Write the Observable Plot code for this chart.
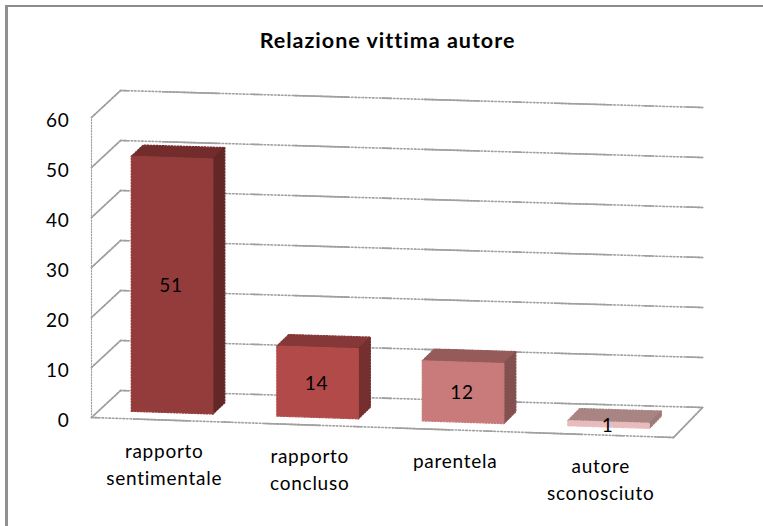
<!DOCTYPE html>
<html><head><meta charset="utf-8">
<script src="https://cdn.jsdelivr.net/npm/d3@7"></script>
<script src="https://cdn.jsdelivr.net/npm/@observablehq/plot@0.6"></script>
<style>
html,body{margin:0;padding:0;background:#fff}
#chart{position:relative;width:763px;height:526px;overflow:hidden}
#chart svg{display:block}
#chart svg text{letter-spacing:.75px}
#chart svg .ttl text{letter-spacing:1px}
#edge{position:absolute;left:5px;top:5px;right:-5px;bottom:-5px;border-left:3px solid #909090;border-top:2px solid #8c8c8c;pointer-events:none}
</style></head><body>
<div id="chart"><div id="edge"></div></div>
<script>
const categories = ["rapporto\nsentimentale", "rapporto\nconcluso", "parentela", "autore\nsconosciuto"];
const values = [51, 14, 12, 1];
const tickValues = [0, 10, 20, 30, 40, 50, 60];
const frontColors = ["#943c3c", "#b24a4a", "#c97a7a", "#e8bcbc"];
const topColors = ["#722c2c", "#863737", "#955a5a", "#a88583"];
const sideColors = ["#632726", "#742f2e", "#835050", "#9c7b78"];
const chartTitle = "Relazione vittima autore";

// oblique 3D projection expressed in chart units (category, value, depth)
const P = (u, v, d) => ({x: u + d * 0.2, y: v + 5.4 * d - u * (1 - 0.15 * d)});
const barFrom = 0.22, barTo = 0.78, depthFront = 0.27, depthBack = 0.68;

const gridMarks = [];
const solidGray = {x: "x", y: "y", stroke: "#a0a0a0", strokeWidth: 1.6, curve: "linear"};
function wire(pts, dash) {
  gridMarks.push(Plot.line(pts, {...solidGray, strokeDasharray: "1.5,2"}));
  gridMarks.push(Plot.line(pts, {...solidGray, strokeDasharray: dash}));
}
for (const t of tickValues) {
  wire([P(0, t, 0), P(0, t, 1)], "400");
  wire([P(0, t, 1), P(4, t, 1)], "8,34,55,34");
}
wire([P(0, 0, 0), P(4, 0, 0)], "8,34,55,34");
wire([P(4, 0, 0), P(4, 0, 1)], "400");
gridMarks.push(Plot.line([P(0, 0, 0), P(0, 60, 0)], {x: "x", y: "y", stroke: "#a0a0a0", strokeWidth: 1.2, strokeDasharray: "1.2,1.6"}));

const barMarks = [];
function poly(pts, color) {
  barMarks.push(Plot.line([...pts, pts[0]], {x: "x", y: "y", fill: color, stroke: color, strokeWidth: 1.4, strokeDasharray: "1.5,1.5"}));
}
values.forEach((v, i) => {
  const a = i + barFrom, b = i + barTo, f = depthFront, k = depthBack;
  poly([P(a, v, f), P(b, v, f), P(b, v, k), P(a, v, k)], topColors[i]);
  poly([P(b, 0, f), P(b, 0, k), P(b, v, k), P(b, v, f)], sideColors[i]);
  poly([P(a, 0, f), P(b, 0, f), P(b, v, f), P(a, v, f)], frontColors[i]);
});

const labelData = values.map((v, i) => ({...P(i + 0.5, v / 2, depthFront), label: String(v)}));
const catData = categories.map((c, i) => ({...P(i + 0.5, 0, 0), label: c}));
const font = "Lato, 'Open Sans', sans-serif";

const plot = Plot.plot({
  width: 763, height: 526,
  marginLeft: 91, marginRight: 90, marginTop: 117, marginBottom: 109,
  style: {background: "transparent", fontFamily: font},
  x: {domain: [0, 4], axis: null},
  y: {domain: [0, 60], axis: null},
  marks: [
    ...gridMarks,
    ...barMarks,
    Plot.axisY({ticks: tickValues, anchor: "left", tickSize: 0, tickPadding: 22, dy: 3, fontSize: 19, fill: "#000", label: null, fontFamily: font}),
    Plot.text(labelData, {x: "x", y: "y", text: "label", fontSize: 19, fill: "#000", dx: -1, dy: 1}),
    Plot.text(catData, {x: "x", y: "y", text: "label", fontSize: 19, fill: "#000", lineAnchor: "top", lineHeight: 1.42, dy: 19}),
    Plot.text([chartTitle], {frameAnchor: "top", dx: 5, dy: -85, text: d => d, fontSize: 21.5, fontWeight: "bold", fill: "#000", className: "ttl"})
  ]
});
document.getElementById("chart").prepend(plot);
</script>
</body></html>
